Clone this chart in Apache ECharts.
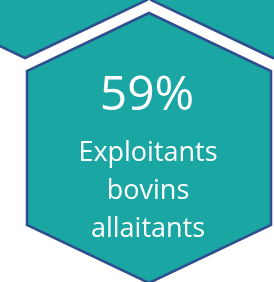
<!DOCTYPE html>
<html>
<head>
<meta charset="utf-8">
<style>
html,body{margin:0;padding:0;background:#fff;}
#chart{width:274px;height:282px;}
</style>
<script src="https://cdn.jsdelivr.net/npm/echarts@6/dist/echarts.min.js"></script>
</head>
<body>
<div id="chart"></div>
<script>
// Hexagon lattice positions (column, row) and their contents
const hexCols = [-1, 1, 0];
const hexRows = [1, 1, 0];
const hexValues = [null, null, 59];
const hexLabels = ['', '', 'Exploitants\nbovins\nallaitants'];

const data = hexCols.map((c, i) => [c, hexRows[i], hexValues[i], hexLabels[i]]);

const chart = echarts.init(document.getElementById('chart'), null, {renderer: 'canvas'});

function renderItem(params, api) {
  const c = api.coord([api.value(0), api.value(1)]);
  const unit = api.size([1, 1]);
  const hw = unit[0] * 0.984;   // half width
  const r = unit[1] * 0.6;      // vertex radius (top/bottom)
  const s = unit[1] * 0.342;    // half side height
  const pts = [
    [c[0], c[1] - r],
    [c[0] + hw, c[1] - s],
    [c[0] + hw, c[1] + s],
    [c[0], c[1] + r],
    [c[0] - hw, c[1] + s],
    [c[0] - hw, c[1] - s]
  ];
  const children = [{
    type: 'polygon',
    shape: {points: pts},
    style: {fill: '#1AA6A2', stroke: '#2F4E8E', lineWidth: 2.5}
  }];
  const v = api.value(2);
  const lbl = data[params.dataIndex][3];
  if (v !== null && v !== undefined && !isNaN(v)) {
    children.push({
      type: 'text',
      style: {
        text: v + '%', x: c[0] - 2, y: c[1] - 52,
        fill: '#ffffff', font: '48px "Open Sans"',
        align: 'center', verticalAlign: 'middle'
      }
    });
  }
  if (lbl) {
    children.push({
      type: 'text',
      style: {
        text: lbl, x: c[0] - 1, y: c[1] + 43,
        fill: '#ffffff', font: '27px "Open Sans"', lineHeight: 38,
        align: 'center', verticalAlign: 'middle'
      }
    });
  }
  return {type: 'group', children: children};
}

chart.setOption({
  animation: false,
  grid: {left: 0, right: 0, top: 0, bottom: 0},
  xAxis: {type: 'value', min: -149 / 124, max: 125 / 124, show: false},
  yAxis: {type: 'value', min: -134 / 225, max: 148 / 225, show: false},
  series: [{
    type: 'custom',
    renderItem: renderItem,
    clip: false,
    data: data
  }]
});
</script>
</body>
</html>
